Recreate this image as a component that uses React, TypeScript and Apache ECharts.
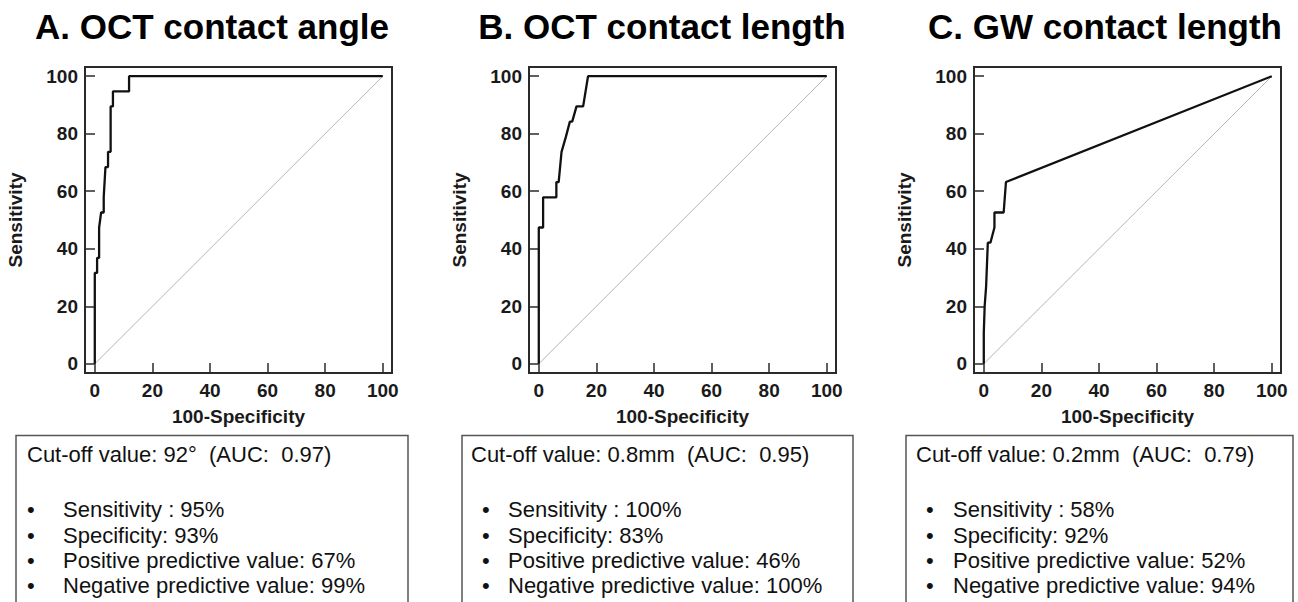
import React, { useEffect, useRef } from "react";
import * as echarts from "echarts";

// ---------- DATA ----------
const titles = ["A. OCT contact angle", "B. OCT contact length", "C. GW contact length"];
const xAxisName = "100-Specificity";
const yAxisName = "Sensitivity";
const tickValues = [0, 20, 40, 60, 80, 100];

// ROC curve A (100-Specificity, Sensitivity)
const rocA_x = [0, 0, 0.8, 0.8, 1.5, 1.5, 2.2, 3.1, 3.1, 3.7, 4.6, 4.6, 5.5, 5.5, 6.3, 6.3, 11.9, 11.9, 100];
const rocA_y = [0, 31.6, 31.6, 36.8, 36.8, 47.4, 52.6, 52.6, 57.9, 68.4, 68.4, 73.7, 73.7, 89.5, 89.5, 94.7, 94.7, 100, 100];

// ROC curve B
const rocB_x = [0, 0, 1.5, 1.5, 6.1, 6.1, 6.9, 7.9, 9.4, 10.8, 11.6, 13.1, 15.4, 17.1, 100];
const rocB_y = [0, 47.4, 47.4, 57.9, 57.9, 63.2, 63.2, 73.7, 78.9, 84.2, 84.2, 89.5, 89.5, 100, 100];

// ROC curve C
const rocC_x = [0, 0, 0.3, 0.8, 1.4, 2.3, 3.7, 3.7, 6.9, 7.7, 100];
const rocC_y = [0, 10.6, 20, 26.8, 42.1, 42.1, 47.4, 52.6, 52.6, 63.2, 100];

const diagonal_x = [0, 100];
const diagonal_y = [0, 100];

const cutoffLines = [
  "Cut-off value: 92°  (AUC:  0.97)",
  "Cut-off value: 0.8mm  (AUC:  0.95)",
  "Cut-off value: 0.2mm  (AUC:  0.79)",
];
const statsA = ["Sensitivity : 95%", "Specificity: 93%", "Positive predictive value: 67%", "Negative predictive value: 99%"];
const statsB = ["Sensitivity : 100%", "Specificity: 83%", "Positive predictive value: 46%", "Negative predictive value: 100%"];
const statsC = ["Sensitivity : 58%", "Specificity: 92%", "Positive predictive value: 52%", "Negative predictive value: 94%"];

// ---------- LAYOUT ----------
const FONT = 'Arial, "Liberation Sans", Helvetica, sans-serif';
const gridLefts = [85, 529, 974];
const gridTop = 67;
const gridW = 307;
const gridH = 306;
const titleCenters = [212, 662, 1105];
const boxes = [
  { x: 16, w: 392, cut: 27, bullet: 27, text: 63 },
  { x: 462, w: 391, cut: 471, bullet: 482, text: 508 },
  { x: 906, w: 387, cut: 916, bullet: 926, text: 953 },
];

const zip = (xs: number[], ys: number[]) => xs.map((x, i) => [x, ys[i]]);

export default function App() {
  const ref = useRef<HTMLDivElement>(null);
  useEffect(() => {
    if (!ref.current) return;
    const chart = echarts.init(ref.current, null, { renderer: "svg" });
    const rocs = [zip(rocA_x, rocA_y), zip(rocB_x, rocB_y), zip(rocC_x, rocC_y)];
    const stats = [statsA, statsB, statsC];

    const grids = gridLefts.map((l) => ({
      left: l,
      top: gridTop,
      width: gridW,
      height: gridH,
      show: true,
      borderColor: "#2a2a2a",
      borderWidth: 2,
      backgroundColor: "transparent",
    }));

    const axisCommon = (i: number) => ({
      type: "value",
      gridIndex: i,
      axisLine: { show: false, onZero: false },
      splitLine: { show: false },
      axisTick: {
        show: true,
        inside: true,
        length: 10,
        customValues: tickValues,
        lineStyle: { color: "#2a2a2a", width: 1.5 },
      },
    });

    const xAxes = gridLefts.map((_, i) => ({
      ...axisCommon(i),
      min: -3.4,
      max: 103.2,
      name: xAxisName,
      nameLocation: "middle",
      nameGap: 34,
      nameTextStyle: { fontFamily: FONT, fontWeight: "bold", fontSize: 19, color: "#1a1a1a" },
      axisLabel: {
        customValues: tickValues,
        margin: 8,
        fontFamily: FONT,
        fontWeight: "bold",
        fontSize: 19,
        color: "#1a1a1a",
      },
    }));

    const yAxes = gridLefts.map((_, i) => ({
      ...axisCommon(i),
      min: -3.2,
      max: 103.2,
      name: yAxisName,
      nameLocation: "middle",
      nameGap: 60,
      nameRotate: 90,
      nameTextStyle: { fontFamily: FONT, fontWeight: "bold", fontSize: 19, color: "#1a1a1a" },
      axisLabel: {
        customValues: tickValues,
        margin: 7,
        fontFamily: FONT,
        fontWeight: "bold",
        fontSize: 19,
        color: "#1a1a1a",
      },
    }));

    const series: any[] = [];
    rocs.forEach((d, i) => {
      series.push({
        type: "line",
        xAxisIndex: i,
        yAxisIndex: i,
        data: zip(diagonal_x, diagonal_y),
        symbol: "none",
        lineStyle: { color: "#b5b5b5", width: 1 },
        z: 2,
      });
      series.push({
        type: "line",
        xAxisIndex: i,
        yAxisIndex: i,
        data: d,
        symbol: "none",
        lineStyle: { color: "#111", width: 2.3 },
        z: 3,
      });
    });

    const graphics: any[] = [];
    titles.forEach((t, i) => {
      graphics.push({
        type: "text",
        x: titleCenters[i],
        y: 26,
        style: {
          text: t,
          font: `bold 35px ${FONT}`,
          fill: "#000",
          align: "center",
          verticalAlign: "middle",
          textAlign: "center",
          textVerticalAlign: "middle",
        },
      });
    });
    const lineYs = [509, 535, 560, 585];
    const txt = (x: number, y: number, text: string) => ({
      type: "text",
      x,
      y,
      style: {
        text,
        font: `22px ${FONT}`,
        fill: "#111",
        align: "left",
        verticalAlign: "middle",
        textAlign: "left",
        textVerticalAlign: "middle",
      },
    });
    boxes.forEach((b, i) => {
      graphics.push({
        type: "rect",
        shape: { x: b.x, y: 435.5, width: b.w, height: 200 },
        style: { fill: "none", stroke: "#555", lineWidth: 1.5 },
      });
      graphics.push(txt(b.cut, 454, cutoffLines[i]));
      stats[i].forEach((s, j) => {
        graphics.push(txt(b.bullet, lineYs[j], "•"));
        graphics.push(txt(b.text, lineYs[j], s));
      });
    });

    chart.setOption({
      animation: false,
      backgroundColor: "#fff",
      grid: grids,
      xAxis: xAxes,
      yAxis: yAxes,
      series,
      graphic: graphics,
    });
    return () => chart.dispose();
  }, []);
  return (
    <div
      ref={ref}
      style={{ position: "absolute", left: 0, top: 0, width: 1298, height: 602 }}
    />
  );
}
